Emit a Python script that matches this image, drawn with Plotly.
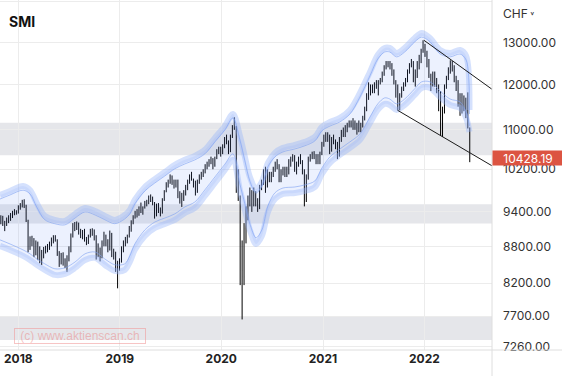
import math
import pandas as pd
import plotly.graph_objects as go

# ---------------- data (weekly SMI bars) ----------------
first_week = "2017-10-30"

opens = [
    9240, 9290, 9180, 9170, 9270, 9300, 9350, 9380, 9400,
    9380, 9500, 9520, 9590, 9500, 9250, 8800, 8900, 8880, 8700, 8850, 8650, 8550,
    8700, 8750, 8780, 8800, 8860, 8900, 8960, 8900, 8700, 8550, 8640, 8520, 8560,
    8600, 8750, 8980, 9150, 9100, 9200, 9050, 8980, 9050, 8920, 8860, 8980, 9050,
    9080, 8960, 8650, 8700, 8620, 8850, 8980, 8860, 8750, 9000, 8650, 8700, 8430,
    8430, 8550, 8750, 8850, 8900, 8980, 9100, 9200, 9300, 9380, 9350, 9480, 9420,
    9480, 9580, 9560, 9650, 9600, 9560, 9330, 9520, 9450, 9380, 9620, 9780, 9900,
    9950, 10050, 9950, 9900, 9980, 9700, 9680, 9650, 9750, 9850, 9950, 10050, 10000,
    9950, 9820, 9950, 10050, 10100, 10150, 10280, 10320, 10380, 10400, 10300, 10420,
    10550, 10600,
    10550, 10650, 10800, 10750, 10550, 10850, 11050, 11050, 9850, 9650, 8400, 8300,
    9100, 9300, 9600, 9750, 9550, 9700, 9600, 9500, 9850, 9950, 10100, 9900, 10100,
    10000, 10100, 10200, 10300, 10250, 10000, 10150, 10200, 10100, 10200, 10350,
    10400, 10450, 10200, 10300, 10400, 10350, 10150, 9600, 10050, 10400, 10450,
    10500, 10450, 10350, 10450, 10500,
    10700, 10850, 10800, 10850, 10600, 10800, 10750, 10650, 10500, 10800, 10950,
    10900, 11050, 11100, 11150, 11100, 11150, 11050, 11100, 11050, 11100, 11250,
    11450, 11750, 11950, 11950, 11900, 12000, 12000, 12050, 12100, 12250, 12400,
    12450, 12500, 12450, 12250, 12050, 11900, 11600, 11750, 11900, 12000, 12100,
    12300, 12450, 12500, 12150, 12200, 12450, 12600, 12800,
    12880, 12700, 12500, 12200, 12000, 12150, 12050, 11900, 11700, 11050, 11400,
    11950, 12150, 12350, 12500, 12400, 12100, 12050, 11600, 11700, 11500, 11650,
    11500, 11050,
]

highs = [
    9340, 9330, 9240, 9300, 9340, 9380, 9420, 9450, 9430,
    9520, 9560, 9620, 9630, 9530, 9260, 8970, 8980, 8940, 8900, 8880, 8800,
    8740, 8790, 8810, 8840, 8880, 8950, 8990, 8990, 8920, 8720, 8690, 8700, 8600,
    8650, 8800, 9020, 9200, 9220, 9230, 9210, 9100, 9080, 9100, 8960, 9000, 9100,
    9110, 9090, 8990, 8850, 8780, 8900, 9050, 9000, 8920, 9070, 9030, 8760, 8710,
    8560,
    8600, 8800, 8900, 8960, 9000, 9150, 9250, 9340, 9420, 9450, 9500, 9570, 9500,
    9600, 9620, 9700, 9720, 9680, 9580, 9550, 9560, 9480, 9650, 9800, 9950, 10000,
    10100, 10080, 10000, 10000, 10000, 9780, 9750, 9800, 9900, 10000, 10100, 10150,
    10020, 9980, 10000, 10100, 10150, 10200, 10300, 10350, 10400, 10450, 10420,
    10450, 10600, 10650, 10650,
    10700, 10850, 10900, 10780, 10900, 11100, 11270, 11080, 10200, 9700, 8900, 9200,
    9500, 9700, 9850, 9800, 9850, 9780, 9650, 9900, 10000, 10200, 10250, 10200,
    10150, 10150, 10250, 10350, 10400, 10300, 10200, 10250, 10250, 10250, 10400,
    10450, 10500, 10480, 10350, 10450, 10500, 10380, 10200, 10100, 10450, 10500,
    10550, 10560, 10500, 10500, 10550, 10750,
    10900, 10950, 10950, 10900, 10850, 10900, 10800, 10750, 10850, 11000, 11050,
    11100, 11150, 11200, 11200, 11250, 11200, 11150, 11200, 11150, 11300, 11500,
    11800, 12050, 12000, 12000, 12050, 12100, 12100, 12150, 12300, 12450, 12550,
    12550, 12550, 12500, 12350, 12100, 12000, 11800, 11950, 12050, 12150, 12350,
    12500, 12600, 12550, 12350, 12550, 12700, 12850, 13060,
    12970, 12800, 12600, 12250, 12300, 12300, 12150, 12000, 11850, 11500, 12000,
    12200, 12400, 12570, 12550, 12450, 12200, 12100, 11800, 11800, 11750, 11700,
    11820, 11050,
]

lows = [
    9180, 9150, 9060, 9150, 9200, 9240, 9290, 9340, 9350,
    9370, 9440, 9480, 9470, 9220, 8700, 8740, 8800, 8620, 8650, 8570, 8520,
    8490, 8600, 8680, 8700, 8740, 8800, 8850, 8880, 8640, 8460, 8500, 8480, 8440,
    8380, 8550, 8700, 8950, 9060, 9080, 9000, 8940, 8920, 8880, 8820, 8840, 8950,
    8980, 8900, 8580, 8620, 8550, 8600, 8800, 8800, 8700, 8730, 8620, 8580, 8380,
    8120,
    8400, 8530, 8700, 8800, 8850, 8950, 9050, 9180, 9280, 9300, 9330, 9380, 9350,
    9460, 9500, 9540, 9580, 9520, 9280, 9320, 9380, 9320, 9370, 9600, 9760, 9850,
    9920, 9900, 9830, 9850, 9650, 9550, 9490, 9600, 9700, 9800, 9920, 9980, 9850,
    9700, 9750, 9920, 10000, 10050, 10120, 10200, 10250, 10300, 10200, 10250,
    10400, 10500, 10450,
    10500, 10620, 10700, 10500, 10540, 10830, 11000, 9750, 9600, 8170, 7650, 8170,
    8850, 9250, 9500, 9400, 9500, 9500, 9400, 9450, 9800, 9900, 9750, 9850, 9950,
    9950, 10050, 10150, 10200, 9950, 9950, 10080, 10050, 10050, 10100, 10250,
    10350, 10150, 10100, 10250, 10300, 10100, 9500, 9580, 10000, 10350, 10400,
    10400, 10300, 10300, 10300, 10480,
    10650, 10750, 10750, 10500, 10550, 10700, 10600, 10400, 10450, 10750, 10850,
    10850, 10950, 11050, 11050, 11000, 11000, 10900, 10950, 10950, 11050, 11200,
    11400, 11650, 11750, 11800, 11800, 11900, 11750, 12000, 12050, 12200, 12350,
    12400, 12350, 12200, 12000, 11700, 11410, 11420, 11700, 11850, 11950, 12050,
    12250, 12400, 12050, 11950, 12150, 12350, 12500, 12750,
    12650, 12400, 12150, 11850, 11950, 11950, 11800, 11400, 10870, 10850, 11350,
    11900, 12100, 12250, 12300, 12050, 11850, 11500, 11300, 11350, 11400, 11250,
    11030, 10340,
]

closes = [
    9290, 9180, 9170, 9270, 9300, 9350, 9380, 9400, 9380,
    9500, 9520, 9590, 9500, 9250, 8800, 8900, 8880, 8700, 8850, 8650, 8550,
    8700, 8750, 8780, 8800, 8860, 8900, 8960, 8900, 8700, 8550, 8640, 8520, 8560,
    8600, 8750, 8980, 9150, 9100, 9200, 9050, 8980, 9050, 8920, 8860, 8980, 9050,
    9080, 8960, 8650, 8700, 8620, 8850, 8980, 8860, 8750, 9000, 8650, 8700, 8430,
    8430,
    8550, 8750, 8850, 8900, 8980, 9100, 9200, 9300, 9380, 9350, 9480, 9420, 9480,
    9580, 9560, 9650, 9600, 9560, 9330, 9520, 9450, 9380, 9620, 9780, 9900, 9950,
    10050, 9950, 9900, 9980, 9700, 9680, 9650, 9750, 9850, 9950, 10050, 10000,
    9950, 9820, 9950, 10050, 10100, 10150, 10280, 10320, 10380, 10400, 10300,
    10420, 10550, 10600, 10550,
    10650, 10800, 10750, 10550, 10850, 11050, 11050, 9850, 9650, 8400, 8300, 9100,
    9300, 9600, 9750, 9550, 9700, 9600, 9500, 9850, 9950, 10100, 9900, 10100,
    10000, 10100, 10200, 10300, 10250, 10000, 10150, 10200, 10100, 10200, 10350,
    10400, 10450, 10200, 10300, 10400, 10350, 10150, 9600, 10050, 10400, 10450,
    10500, 10450, 10350, 10450, 10500, 10700,
    10850, 10800, 10850, 10600, 10800, 10750, 10650, 10500, 10800, 10950, 10900,
    11050, 11100, 11150, 11100, 11150, 11050, 11100, 11050, 11100, 11250, 11450,
    11750, 11950, 11950, 11900, 12000, 12000, 12050, 12100, 12250, 12400, 12450,
    12500, 12450, 12250, 12050, 11900, 11600, 11750, 11900, 12000, 12100, 12300,
    12450, 12500, 12150, 12200, 12450, 12600, 12800, 12880,
    12700, 12500, 12200, 12000, 12150, 12050, 11900, 11700, 11050, 11400, 11950,
    12150, 12350, 12500, 12400, 12100, 12050, 11600, 11700, 11500, 11650, 11450,
    11050, 10428.19,
]

# channel lines
band_dates = [
    "2017-10-27", "2017-12-02", "2018-01-18", "2018-02-12", "2018-03-08", "2018-04-06",
    "2018-05-12", "2018-06-18", "2018-07-24", "2018-08-29", "2018-10-04", "2018-11-08",
    "2018-12-14", "2019-01-19", "2019-02-06", "2019-02-24", "2019-04-01", "2019-05-07",
    "2019-06-12", "2019-07-18", "2019-08-23", "2019-09-28", "2019-11-03", "2019-12-09",
    "2020-01-14", "2020-02-12", "2020-03-08", "2020-03-26", "2020-04-13", "2020-05-05",
    "2020-05-26", "2020-06-17", "2020-07-12", "2020-08-10", "2020-09-22", "2020-10-28",
    "2020-12-03", "2020-12-28", "2021-01-26", "2021-03-03", "2021-04-08", "2021-05-14",
    "2021-06-19", "2021-07-17", "2021-08-11", "2021-08-29", "2021-09-23", "2021-10-22",
    "2021-11-27", "2021-12-22", "2022-01-21", "2022-02-26", "2022-04-03", "2022-05-09",
    "2022-05-31", "2022-06-12",
]
band_upper = [
    9710, 9785, 9878, 9803, 9563, 9328, 9257, 9239, 9364, 9472, 9418, 9328, 9257, 9346,
    9436, 9618, 9859, 10011, 10146, 10287, 10386, 10465, 10586, 10833, 11083, 11341,
    10874, 10445, 10049, 9822, 9954, 10326, 10526, 10627, 10688, 10750, 10853, 11062,
    11168, 11254, 11428, 11806, 12291, 12698, 12869, 12869, 12746, 12869, 13118, 13244,
    13118, 12820, 12746, 12820, 12673, 11428,
]
band_upper_inner = [
    9635, 9710, 9800, 9730, 9490, 9260, 9190, 9170, 9290, 9400, 9345, 9260, 9190, 9275,
    9365, 9545, 9785, 9935, 10070, 10210, 10305, 10385, 10505, 10750, 11000, 11255,
    10790, 10365, 9970, 9745, 9880, 10250, 10445, 10545, 10605, 10670, 10770, 10980,
    11080, 11170, 11340, 11715, 12200, 12600, 12770, 12770, 12650, 12770, 13020, 13140,
    13020, 12720, 12650, 12720, 12575, 11340,
]
band_lower_inner = [
    8910, 8840, 8740, 8675, 8590, 8510, 8430, 8445, 8540, 8675, 8705, 8590, 8495, 8510,
    8640, 8840, 9080, 9220, 9290, 9365, 9490, 9580, 9805, 10050, 10300, 10505,
    9915, 9545, 9185, 8945, 9080, 9510, 9750, 9840, 9860, 9900, 9975, 10225,
    10445, 10605, 10750, 10915, 11275, 11560, 11695, 11670, 11560, 11670, 11900, 12060,
    12060, 11850, 11670, 11605, 11385, 11085,
]
band_lower = [
    8807, 8740, 8640, 8574, 8493, 8412, 8332, 8348, 8444, 8574, 8607, 8493, 8396, 8412,
    8542, 8740, 8977, 9116, 9186, 9257, 9382, 9472, 9692, 9935, 10185, 10386,
    9803, 9436, 9081, 8841, 8977, 9400, 9636, 9729, 9747, 9785, 9859, 10108,
    10326, 10485, 10627, 10791, 11147, 11428, 11560, 11538, 11428, 11538, 11761, 11920,
    11920, 11716, 11538, 11472, 11254, 10958,
]

# support / resistance zones
zones = [(10480, 11150), (9195, 9540), (7355, 7690)]

# trend channel lines
trend_upper_dates = ["2021-12-30", "2022-09-01"]
trend_upper_vals = [13060, 11890]
trend_lower_dates = ["2021-09-28", "2022-09-01"]
trend_lower_vals = [11414, 10268]

# axes
y_tick_vals = [14060, 13000, 12000, 11000, 10200, 9400, 8800, 8200, 7700, 7260]
y_tick_text = ["", "13000.00", "12000.00", "11000.00", "10200.00", "9400.00",
               "8800.00", "8200.00", "7700.00", "7260.00"]
x_tick_vals = ["2018-01-01", "2019-01-01", "2020-01-01", "2021-01-01", "2022-01-01"]
x_tick_text = ["2018", "2019", "2020", "2021", "2022"]

title_text = "SMI"
currency_text = "CHF"
last_price = closes[-1]
watermark = "(c) www.aktienscan.ch"

# ---------------- figure ----------------
assert len(opens) == len(highs) == len(lows) == len(closes)
dates = pd.date_range(first_week, periods=len(closes), freq="7D")

fig = go.Figure()

SPL = dict(shape="spline", smoothing=0.9)

# channel fill
fig.add_trace(go.Scatter(x=band_dates, y=band_lower, mode="lines",
                         line=dict(width=0, **SPL), hoverinfo="skip"))
fig.add_trace(go.Scatter(x=band_dates, y=band_upper, mode="lines",
                         line=dict(width=0, **SPL),
                         fill="tonexty", fillcolor="rgba(110,150,245,0.13)",
                         hoverinfo="skip"))
# outer glow lines
for arr in (band_upper, band_lower):
    fig.add_trace(go.Scatter(x=band_dates, y=arr, mode="lines",
                             line=dict(width=6, color="rgba(150,180,250,0.4)", **SPL),
                             hoverinfo="skip"))
# inner thin lines
for arr in (band_upper_inner, band_lower_inner):
    fig.add_trace(go.Scatter(x=band_dates, y=arr, mode="lines",
                             line=dict(width=1, color="rgba(125,160,242,0.6)", **SPL),
                             hoverinfo="skip"))

fig.add_trace(go.Ohlc(x=dates, open=opens, high=highs, low=lows, close=closes,
                      increasing=dict(line=dict(color="#000000", width=1)),
                      decreasing=dict(line=dict(color="#000000", width=1)),
                      tickwidth=0.02, hoverinfo="skip"))

fig.add_trace(go.Scatter(x=trend_upper_dates, y=trend_upper_vals, mode="lines",
                         line=dict(color="#1a1a1a", width=1), hoverinfo="skip"))
fig.add_trace(go.Scatter(x=trend_lower_dates, y=trend_lower_vals, mode="lines",
                         line=dict(color="#1a1a1a", width=1), hoverinfo="skip"))

shapes = []
for lo, hi in zones:
    shapes.append(dict(type="rect", xref="paper", yref="y", x0=0, x1=1, y0=lo, y1=hi,
                       fillcolor="#e5e6ea", line=dict(width=0), layer="below"))
# frame lines
shapes.append(dict(type="line", xref="paper", yref="paper", x0=1, x1=1,
                   y0=-26 / 350, y1=1, line=dict(color="#dedede", width=1)))
shapes.append(dict(type="line", xref="paper", yref="paper", x0=0, x1=562 / 492,
                   y0=0, y1=0, line=dict(color="#dedede", width=1)))

annotations = [
    dict(text="<b>" + title_text + "</b>", xref="paper", yref="paper", x=7 / 492,
         y=1 - 22 / 350, xanchor="left", yanchor="middle", showarrow=False,
         font=dict(size=14, color="#111111", family="Inter")),
    dict(text=currency_text + "<span style='font-size:9px'> ˅</span>", xref="paper",
         yref="paper", x=501 / 492, y=1 - 13 / 350, xanchor="left", yanchor="middle",
         showarrow=False, font=dict(size=12, color="#333333", family="Inter")),
    dict(text=f"{last_price:.2f}", xref="paper", yref="y", x=1, y=math.log10(last_price),
         xanchor="left", yanchor="middle", showarrow=False, bgcolor="#dc5442",
         width=68, height=12, borderpad=1, align="center",
         font=dict(size=12, color="#ffffff", family="Inter")),
    dict(text=watermark, xref="paper", yref="paper", x=80 / 492, y=1 - 335.7 / 350,
         xanchor="center", yanchor="middle", showarrow=False, width=130, height=14,
         bordercolor="rgba(240,150,150,0.55)", borderwidth=1, borderpad=0,
         font=dict(size=12, color="rgba(235,120,120,0.45)", family="Liberation Sans")),
]

fig.update_layout(
    width=562, height=376,
    margin=dict(l=0, r=70, t=0, b=26),
    paper_bgcolor="white", plot_bgcolor="white",
    showlegend=False,
    font=dict(family="Inter", size=12, color="#333333"),
    shapes=shapes, annotations=annotations,
    xaxis=dict(type="date", range=["2017-10-27", "2022-09-01"],
               tickvals=x_tick_vals, ticktext=["<b>" + t + "</b>" for t in x_tick_text],
               showgrid=True, gridcolor="#ececec", gridwidth=1, zeroline=False,
               showline=False, ticks="", rangeslider=dict(visible=False),
               tickfont=dict(size=12, color="#222222", family="Inter")),
    yaxis=dict(type="log", range=[math.log10(7215), math.log10(14107)], side="right",
               tickvals=y_tick_vals, ticktext=y_tick_text, showgrid=True,
               gridcolor="#ececec", gridwidth=1, zeroline=False, showline=False,
               ticks="", ticklabelstandoff=10,
               tickfont=dict(size=12, color="#333333", family="Inter")),
)

fig.write_html("out.html",
               config={"displayModeBar": False},
               post_script="document.body.style.margin='0px';"
                           "document.body.style.overflow='hidden';")
